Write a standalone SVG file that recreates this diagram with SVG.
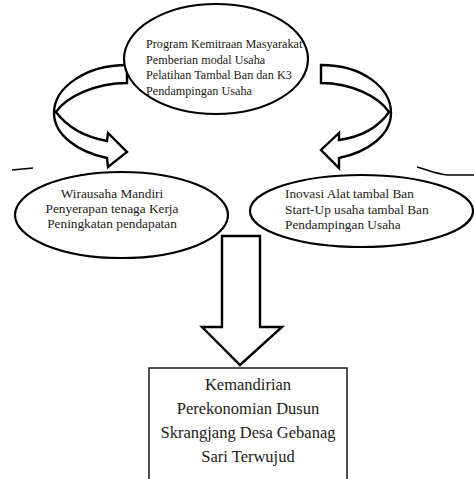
<svg xmlns="http://www.w3.org/2000/svg" width="474" height="479" viewBox="0 0 474 479">
<style>
.bg{fill:#ffffff}
.shape{fill:#ffffff;stroke:#000000;stroke-width:2.2;stroke-linejoin:miter}
.arrow{fill:#ffffff;stroke:#000000;stroke-width:2.4;stroke-linejoin:miter}
.box{fill:#ffffff;stroke:#1a1a1a;stroke-width:1.5}
.line{fill:none;stroke:#000000;stroke-width:1.6}
.t{font-family:"Liberation Serif","Times New Roman",serif;fill:#1e1a16}
.s{font-size:12.2px}
.m{font-size:13.3px}
.l{font-size:16.5px}
</style>
<rect class="bg" x="0" y="0" width="474" height="479"/>
<g id="connectors">
<path id="arrow-left" class="arrow" d="M127,83 L127,65 C85,65 54,88 54,113 C54,135 78,152 107,158 L108,167 L127,152 L108,133 L107,141 C85,137 68,128 56,112 C66,97 95,83 127,83 Z"/>
<path id="arrow-right" class="arrow" d="M321,83 L321,65 C363,65 391,88 391,113 C391,135 368,152 339,158 L339,168 L321,150 L339,133 L339,140 C360,137 378,128 389,112 C379,97 352,83 321,83 Z"/>
<path id="arrow-down" class="arrow" d="M222,236 L260,236 L260,327 L282,327 L240,365 L202,327 L222,327 Z"/>
<path class="line" d="M12,170 L33,168"/>
<path class="line" d="M417,167 C428,170 436,174 448,175 L474,175"/>
</g>
<g id="node-top">
<ellipse class="shape" cx="216" cy="59" rx="92" ry="55"/>
<text class="t s" x="146" y="48">Program Kemitraan Masyarakat</text>
<text class="t s" x="146" y="63.5">Pemberian modal Usaha</text>
<text class="t s" x="146" y="79">Pelatihan Tambal Ban dan K3</text>
<text class="t s" x="146" y="94.5">Pendampingan Usaha</text>
</g>
<g id="node-left">
<ellipse class="shape" cx="121.5" cy="215" rx="106.5" ry="43"/>
<text class="t m" x="112" y="198" text-anchor="middle">Wirausaha Mandiri</text>
<text class="t m" x="112" y="213" text-anchor="middle">Penyerapan tenaga Kerja</text>
<text class="t m" x="112" y="228" text-anchor="middle">Peningkatan pendapatan</text>
</g>
<g id="node-right">
<ellipse class="shape" cx="361.5" cy="211" rx="111.5" ry="36"/>
<text class="t m" x="285" y="198">Inovasi Alat tambal Ban</text>
<text class="t m" x="285" y="214">Start-Up usaha tambal Ban</text>
<text class="t m" x="285" y="229">Pendampingan Usaha</text>
</g>
<g id="node-result">
<path class="box" d="M149,480 L149,368 L347,368 L347,480"/>
<text class="t l" x="248" y="390" text-anchor="middle">Kemandirian</text>
<text class="t l" x="248" y="414" text-anchor="middle">Perekonomian Dusun</text>
<text class="t l" x="248" y="438" text-anchor="middle">Skrangjang Desa Gebanag</text>
<text class="t l" x="248" y="462" text-anchor="middle">Sari Terwujud</text>
</g>
</svg>
